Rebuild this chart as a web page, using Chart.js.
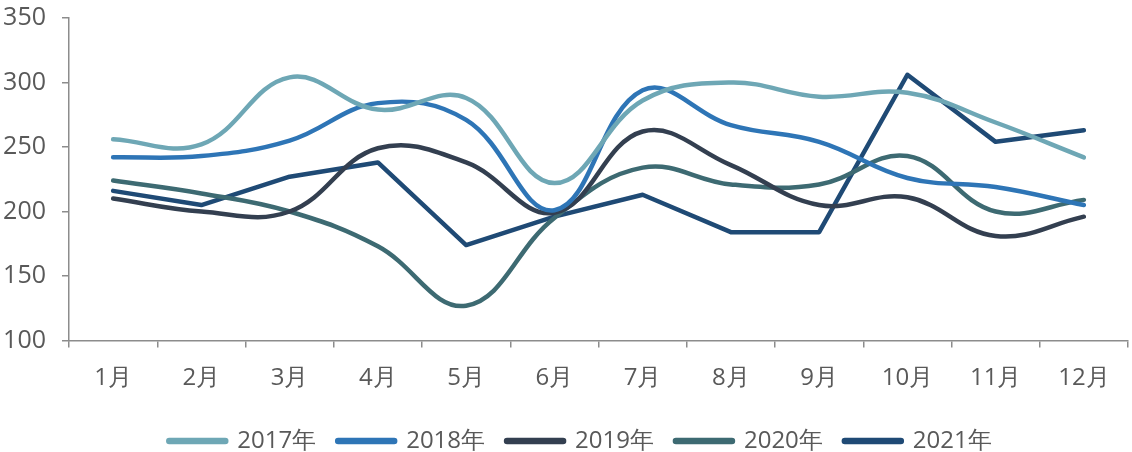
<!DOCTYPE html>
<html>
<head>
<meta charset="utf-8">
<script src="https://cdn.jsdelivr.net/npm/chart.js@4.4.0/dist/chart.umd.min.js"></script>
<style>
  html, body { margin: 0; padding: 0; background: #fff; }
  #wrap { width: 1132px; height: 452px; }
</style>
</head>
<body>
<div id="wrap"><canvas id="chart"></canvas></div>
<script>
// Months and yearly series
const months = ['1月', '2月', '3月', '4月', '5月', '6月', '7月', '8月', '9月', '10月', '11月', '12月'];
const years = ['2017年', '2018年', '2019年', '2020年', '2021年'];

const y2017 = [256, 252, 304, 279, 288, 222, 286, 300, 289, 292, 269, 242];
const y2018 = [242, 243, 255, 284, 271, 201, 294, 267, 254, 226, 219, 205];
const y2019 = [210, 200, 200, 249, 238, 199, 262, 236, 205, 211, 181, 196];
const y2020 = [224, 214, 200, 173, 127, 195, 234, 221, 221, 243, 200, 209];
const y2021 = [216, 205, 227, 238, 174, 196, 213, 184, 184, 306, 254, 263];

const colors = ['#6ea7b5', '#2e75b6', '#333f50', '#3d6a72', '#1f4a75'];
const axisColor = '#8c8c8c';
const textColor = '#595959';

function makeSet(label, data, color, smooth) {
    return {
        label: label,
        data: data,
        borderColor: color,
        backgroundColor: color,
        borderWidth: 4.5,
        pointRadius: 0,
        tension: smooth ? 0.4 : 0,
        borderCapStyle: 'round',
        borderJoinStyle: 'round',
        fill: false
    };
}

// the legend sits a little right of centre in the original
const legendShift = {
    id: 'legendShift',
    afterLayout(chart) {
        chart.legend.left += 15;
        chart.legend.right += 15;
    }
};

const ctx = document.getElementById('chart').getContext('2d');
new Chart(ctx, {
    type: 'line',
    data: {
        labels: months,
        datasets: [
            makeSet(years[0], y2017, colors[0], true),
            makeSet(years[1], y2018, colors[1], true),
            makeSet(years[2], y2019, colors[2], true),
            makeSet(years[3], y2020, colors[3], true),
            makeSet(years[4], y2021, colors[4], false)
        ]
    },
    plugins: [legendShift],
    options: {
        responsive: true,
        maintainAspectRatio: false,
        animation: false,
        layout: { padding: { top: 0, right: 4, left: 3, bottom: -11 } },
        scales: {
            x: {
                offset: true,
                afterFit: function(scale) { scale.height = 66.5; },
                grid: {
                    display: true,
                    drawOnChartArea: false,
                    drawTicks: true,
                    tickLength: 7,
                    color: axisColor,
                    lineWidth: 1.5,
                    offset: true
                },
                border: { display: true, color: axisColor, width: 1.5 },
                ticks: {
                    color: textColor,
                    padding: 19,
                    font: { family: 'Open Sans', size: 24, lineHeight: 1.0 },
                    maxRotation: 0
                }
            },
            y: {
                min: 100,
                max: 350,
                afterFit: function(scale) {
                    scale.width = 66;
                    scale.paddingTop = 18;
                    scale.paddingBottom = 0;
                },
                ticks: {
                    stepSize: 50,
                    color: textColor,
                    padding: 16,
                    font: { family: 'Open Sans', size: 25 }
                },
                grid: {
                    display: true,
                    drawOnChartArea: false,
                    drawTicks: true,
                    tickLength: 7,
                    color: axisColor,
                    lineWidth: 1.5
                },
                border: { display: true, color: axisColor, width: 1.5 }
            }
        },
        plugins: {
            legend: {
                position: 'bottom',
                labels: {
                    color: textColor,
                    usePointStyle: true,
                    pointStyle: 'line',
                    pointStyleWidth: 56,
                    padding: 22,
                    font: { family: 'Open Sans', size: 24 },
                    generateLabels: function(chart) {
                        const items = Chart.defaults.plugins.legend.labels.generateLabels(chart);
                        items.forEach(item => { item.lineWidth = 6.5; item.lineCap = 'round'; });
                        return items;
                    }
                }
            },
            tooltip: { enabled: false }
        }
    }
});
</script>
</body>
</html>
